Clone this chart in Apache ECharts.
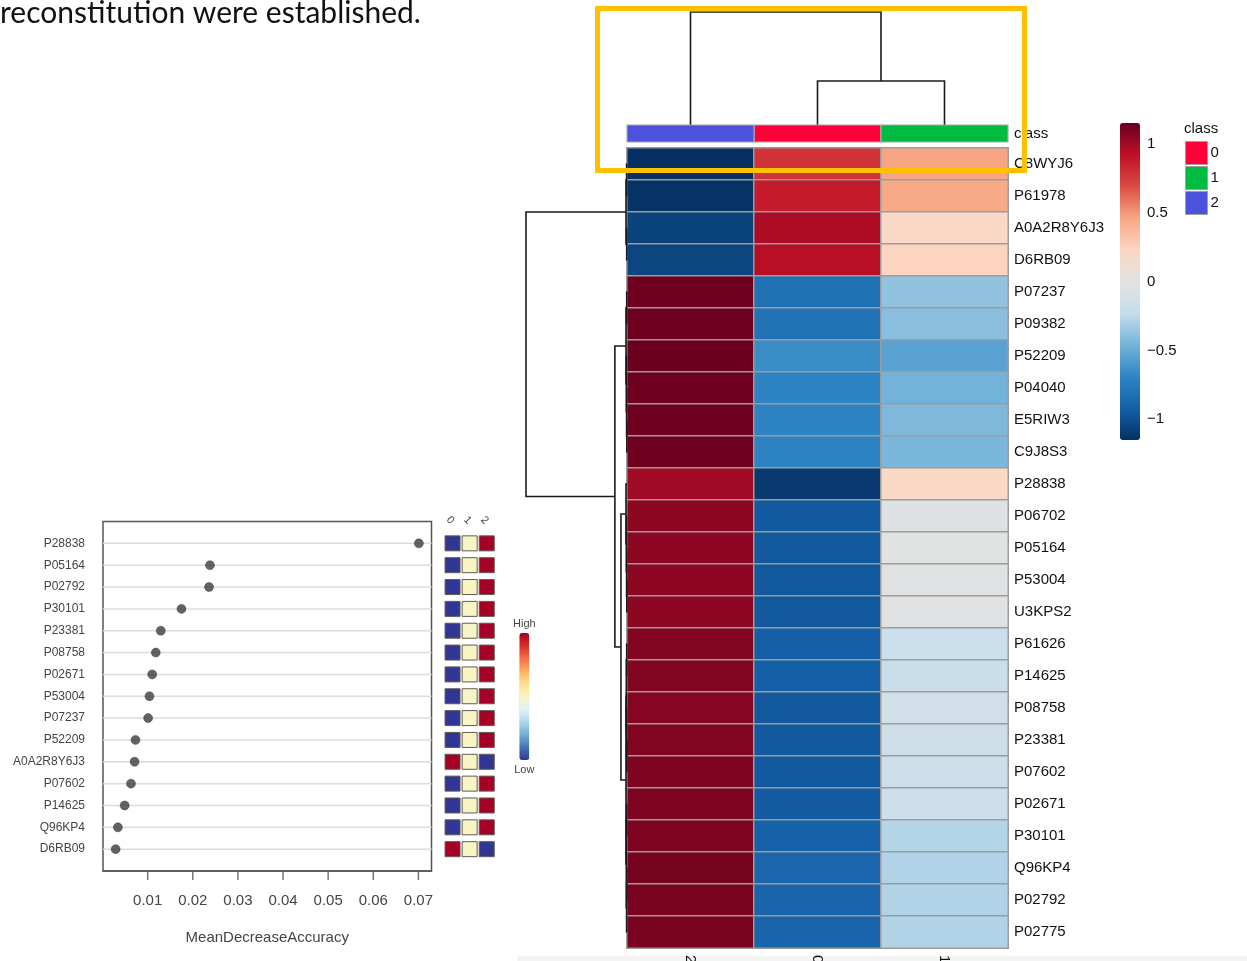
<!DOCTYPE html>
<html>
<head>
<meta charset="utf-8">
<script src="https://cdn.jsdelivr.net/npm/echarts@6/dist/echarts.min.js"></script>
<style>
  html, body { margin: 0; padding: 0; background: #ffffff; }
  #chart { width: 1247px; height: 961px; }
</style>
</head>
<body>
<div id="chart"></div>
<script>
// ---------- Clustered heatmap of row-scaled protein abundance ----------
const proteins = ['C8WYJ6', 'P61978', 'A0A2R8Y6J3', 'D6RB09', 'P07237', 'P09382', 'P52209', 'P04040',
  'E5RIW3', 'C9J8S3', 'P28838', 'P06702', 'P05164', 'P53004', 'U3KPS2', 'P61626', 'P14625',
  'P08758', 'P23381', 'P07602', 'P02671', 'P30101', 'Q96KP4', 'P02792', 'P02775'];
// column order after clustering
const groups = ['2', '0', '1'];
// scaled values per protein, one array per column
const group2 = [-1.15, -1.13, -1.06, -1.05, 1.13, 1.13, 1.14, 1.13, 1.13, 1.13, 1.00, 1.05, 1.05,
  1.05, 1.05, 1.08, 1.08, 1.07, 1.08, 1.09, 1.09, 1.09, 1.11, 1.10, 1.10];
const group0 = [0.78, 0.88, 0.97, 0.94, -0.82, -0.80, -0.65, -0.70, -0.70, -0.70, -1.10, -0.95, -0.96,
  -0.96, -0.96, -0.93, -0.92, -0.96, -0.95, -0.95, -0.94, -0.91, -0.88, -0.89, -0.89];
const group1 = [0.46, 0.44, 0.20, 0.24, -0.38, -0.40, -0.55, -0.46, -0.43, -0.44, 0.20, -0.05, -0.02,
  -0.04, -0.03, -0.20, -0.21, -0.15, -0.17, -0.19, -0.19, -0.28, -0.29, -0.29, -0.29];
const colorTicks = [-1, -0.5, 0, 0.5, 1];
const classNames = ['0', '1', '2'];
const classColors = ['#FF0037', '#00BB3F', '#4B53DD'];

// hclust-style merges: negative = leaf (1-based display position), positive = earlier merge
const rowMerges = [
  [-1, -2, 0.004], [-3, -4, 0.003], [1, 2, 0.010],
  [-5, -6, 0.003], [-9, -10, 0.002], [-8, 5, 0.004], [-7, 6, 0.006], [4, 7, 0.010],
  [-14, -15, 0.002], [-13, 9, 0.004], [-12, 10, 0.006], [-11, 11, 0.010],
  [-16, -17, 0.003], [-19, -20, 0.002], [-18, 14, 0.004], [13, 15, 0.007],
  [-21, -22, 0.003], [-23, -24, 0.002], [18, -25, 0.004], [17, 19, 0.007], [16, 20, 0.010],
  [12, 21, 0.06], [8, 22, 0.12], [3, 23, 1.0]
];
const colMerges = [[-2, -3, 0.39], [-1, 1, 1.0]];

// ---------- Random forest variable importance ----------
const features = ['P28838', 'P05164', 'P02792', 'P30101', 'P23381', 'P08758', 'P02671', 'P53004',
  'P07237', 'P52209', 'A0A2R8Y6J3', 'P07602', 'P14625', 'Q96KP4', 'D6RB09'];
const meanDecreaseAccuracy = [0.0701, 0.0238, 0.0236, 0.0175, 0.0129, 0.0118, 0.0110, 0.0104,
  0.0101, 0.0073, 0.0071, 0.0063, 0.0049, 0.0034, 0.0029];
const importanceTicks = [0.01, 0.02, 0.03, 0.04, 0.05, 0.06, 0.07];
// relative level of each feature within classes 0, 1, 2 (0 = low, 1 = high)
const levelClass0 = [0, 0, 0, 0, 0, 0, 0, 0, 0, 0, 1, 0, 0, 0, 1];
const levelClass1 = [0.5, 0.5, 0.5, 0.5, 0.5, 0.5, 0.5, 0.5, 0.5, 0.5, 0.5, 0.5, 0.5, 0.5, 0.5];
const levelClass2 = [1, 1, 1, 1, 1, 1, 1, 1, 1, 1, 0, 1, 1, 1, 0];

// ---------- helpers ----------
function dendroSegments(merges, rowWise) {
  const pos = [], hgt = [], segs = [];
  const info = id => (id < 0 ? [-id - 1, 0] : [pos[id - 1], hgt[id - 1]]);
  merges.forEach(([a, b, h]) => {
    const [pa, ha] = info(a);
    const [pb, hb] = info(b);
    pos.push((pa + pb) / 2);
    hgt.push(h);
    let pts = [[pa, ha], [pa, h], [pb, h], [pb, hb]];
    if (rowWise) pts = pts.map(([p, v]) => [v, p]);
    segs.push({ coords: pts });
  });
  return segs;
}

const heatData = [];
const groupValues = [group2, group0, group1];
proteins.forEach((p, r) => {
  groupValues.forEach((vals, c) => heatData.push([c, r, vals[r]]));
});

const levelData = [];
[levelClass0, levelClass1, levelClass2].forEach((lv, c) => {
  lv.forEach((v, i) => levelData.push([c, i + 1, v]));
});

const font = 'Liberation Sans';
const chart = echarts.init(document.getElementById('chart'));

const classSeries = classNames.map((name, k) => ({
  type: 'custom',
  name: name,
  xAxisIndex: 4, yAxisIndex: 4,
  itemStyle: { color: classColors[k] },
  data: [[groups.indexOf(name), 0]],
  renderItem: (params, api) => {
    const c = api.coord([api.value(0), api.value(1)]);
    const s = api.size([1, 1]);
    return {
      type: 'rect',
      shape: { x: c[0] - s[0] / 2, y: c[1] - s[1] / 2, width: s[0], height: s[1] },
      style: { fill: api.visual('color'), stroke: '#a8a8a8', lineWidth: 1.2 }
    };
  }
}));

const gridBase = { outerBoundsMode: 'none', containLabel: false };

const option = {
  backgroundColor: '#ffffff',
  animation: false,
  textStyle: { fontFamily: font },
  grid: [
    Object.assign({ left: 103, top: 521.5, width: 328.5, height: 349.5, show: true, borderColor: '#555', borderWidth: 1.5 }, gridBase),
    Object.assign({ left: 444, top: 521.5, width: 51.3, height: 349.5 }, gridBase),
    Object.assign({ left: 526, top: 148, width: 101, height: 800 }, gridBase),
    Object.assign({ left: 627, top: 12, width: 381, height: 113 }, gridBase),
    Object.assign({ left: 627, top: 125, width: 381, height: 17 }, gridBase),
    Object.assign({ left: 627, top: 148, width: 381, height: 800 }, gridBase),
    Object.assign({ left: 1120, top: 123, width: 20, height: 317 }, gridBase)
  ],
  xAxis: [
    {
      gridIndex: 0, type: 'value', min: 0.0001, max: 0.0729, position: 'bottom',
      axisLine: { show: true, onZero: false, lineStyle: { color: '#555', width: 1.5 } },
      axisTick: { show: false },
      axisLabel: { customValues: importanceTicks, fontSize: 15, color: '#444', margin: 22.5,
        formatter: v => v.toFixed(2) },
      splitLine: { show: false },
      name: 'MeanDecreaseAccuracy', nameLocation: 'middle', nameGap: 59.5,
      nameTextStyle: { fontSize: 15, color: '#444' }
    },
    {
      gridIndex: 1, type: 'category', data: classNames, position: 'top',
      axisLine: { show: false, onZero: false }, axisTick: { show: false },
      axisLabel: { rotate: 45, fontSize: 11, color: '#444', margin: -1 }
    },
    { gridIndex: 2, type: 'value', min: 0, max: 1, inverse: true, show: false },
    { gridIndex: 3, type: 'value', min: -0.5, max: 2.5, show: false },
    { gridIndex: 4, type: 'category', data: groups, show: false },
    {
      gridIndex: 5, type: 'category', data: groups, position: 'bottom',
      axisLine: { show: false, onZero: false }, axisTick: { show: false },
      axisLabel: { rotate: -90, fontSize: 15, color: '#111', margin: 7 }
    },
    { gridIndex: 6, type: 'value', show: false }
  ],
  yAxis: [
    {
      gridIndex: 0, type: 'value', min: 0, max: 16, inverse: true,
      axisLine: { show: false, onZero: false }, axisTick: { show: false }, splitLine: { show: false },
      axisLabel: { customValues: features.map((f, i) => i + 1), formatter: v => features[v - 1],
        fontSize: 12, color: '#444', margin: 18 }
    },
    { gridIndex: 1, type: 'value', min: 0, max: 16, inverse: true, show: false },
    { gridIndex: 2, type: 'value', min: -0.5, max: proteins.length - 0.5, inverse: true, show: false },
    { gridIndex: 3, type: 'value', min: 0, max: 1, show: false },
    {
      gridIndex: 4, type: 'category', data: ['class'], position: 'right',
      axisLine: { show: false, onZero: false }, axisTick: { show: false },
      axisLabel: { fontSize: 15, color: '#111', margin: 6 }
    },
    {
      gridIndex: 5, type: 'category', data: proteins, inverse: true, position: 'right',
      axisLine: { show: false, onZero: false }, axisTick: { show: false },
      axisLabel: { fontSize: 15, color: '#111', margin: 6 }
    },
    {
      gridIndex: 6, type: 'value', min: -1.15, max: 1.15, position: 'right',
      axisLine: { show: false, onZero: false }, axisTick: { show: false }, splitLine: { show: false },
      axisLabel: { customValues: colorTicks, fontSize: 15, color: '#111', margin: 7,
        formatter: v => String(v).replace('-', '\u2212') }
    }
  ],
  visualMap: [
    {
      type: 'continuous', seriesIndex: 3, dimension: 2, min: -1.15, max: 1.15,
      calculable: false, hoverLink: false, orient: 'vertical', padding: 0,
      left: 1120, top: 123, itemWidth: 20, itemHeight: 317,
      inRange: { color: ['#053061', '#1460A8', '#2F85C3', '#74B3D9', '#C6DDEC', '#E4E2E1',
        '#FCD6C2', '#F7A683', '#DA4B43', '#C00F27', '#67001F'] }
    },
    {
      type: 'continuous', seriesIndex: 2, dimension: 2, min: 0, max: 1,
      calculable: false, hoverLink: false, orient: 'vertical', padding: 0,
      left: 513, top: 618, itemWidth: 10, itemHeight: 127, text: ['High', 'Low'], textGap: 4,
      textStyle: { fontSize: 11, color: '#444', fontFamily: font },
      inRange: { color: ['#313695', '#4575B4', '#74ADD1', '#ABD9E9', '#E0F3F8', '#F8F4C4',
        '#FEE090', '#FDAE61', '#F46D43', '#D73027', '#A50026'] }
    }
  ],
  legend: {
    data: classNames, orient: 'vertical', left: 1185, top: 141, padding: 0,
    itemWidth: 22, itemHeight: 23, itemGap: 1, icon: 'rect', selectedMode: false,
    itemStyle: { borderColor: '#a0a0a0', borderWidth: 1 },
    textStyle: { fontSize: 15, color: '#111', fontFamily: font, padding: [0, 0, 0, -2] }
  },
  series: [
    {
      type: 'custom', name: 'guides', xAxisIndex: 0, yAxisIndex: 0, silent: true, z: 1,
      data: features.map((f, i) => [meanDecreaseAccuracy[i], i + 1]),
      encode: { x: 0, y: 1 },
      renderItem: (params, api) => {
        const cs = params.coordSys;
        const y = api.coord([api.value(0), api.value(1)])[1];
        return {
          type: 'line',
          shape: { x1: cs.x, y1: y, x2: cs.x + cs.width, y2: y },
          style: { stroke: '#dcdcdc', lineWidth: 1.5 }
        };
      }
    },
    {
      type: 'scatter', name: 'MeanDecreaseAccuracy', xAxisIndex: 0, yAxisIndex: 0, z: 3,
      data: features.map((f, i) => [meanDecreaseAccuracy[i], i + 1]),
      symbol: 'circle', symbolSize: 9,
      itemStyle: { color: '#3c3c3c', borderColor: '#2a2a2a', borderWidth: 0.5 }
    },
    {
      type: 'custom', name: 'classLevel', xAxisIndex: 1, yAxisIndex: 1,
      data: levelData, encode: { x: 0, y: 1 },
      renderItem: (params, api) => {
        const c = api.coord([api.value(0), api.value(1)]);
        return {
          type: 'rect',
          shape: { x: c[0] - 7.5, y: c[1] - 7.5, width: 15, height: 15 },
          style: { fill: api.visual('color'), stroke: '#5f5c50', lineWidth: 1 }
        };
      }
    },
    {
      type: 'heatmap', name: 'scaled', xAxisIndex: 5, yAxisIndex: 5,
      data: heatData,
      itemStyle: { borderColor: '#9c9c9c', borderWidth: 1.5 },
      emphasis: { disabled: true }
    },
    {
      type: 'lines', name: 'rowTree', coordinateSystem: 'cartesian2d', xAxisIndex: 2, yAxisIndex: 2,
      polyline: true, silent: true, data: dendroSegments(rowMerges, true),
      lineStyle: { color: '#1a1a1a', width: 1.6, opacity: 1 }
    },
    {
      type: 'lines', name: 'colTree', coordinateSystem: 'cartesian2d', xAxisIndex: 3, yAxisIndex: 3,
      polyline: true, silent: true, data: dendroSegments(colMerges, false),
      lineStyle: { color: '#1a1a1a', width: 1.6, opacity: 1 }
    },
    {
      // outward tick marks under the importance axis
      type: 'scatter', name: 'importanceTicks', xAxisIndex: 0, yAxisIndex: 0, silent: true,
      clip: false, z: 10,
      data: importanceTicks.map(t => [t, 16]),
      symbol: 'rect', symbolSize: [1.5, 9], symbolOffset: [0, 4.5],
      itemStyle: { color: '#555' }
    }
  ].concat(classSeries),
  graphic: [
    {
      type: 'rect', silent: true, z: -10,
      shape: { x: 517, y: 956, width: 730, height: 5 },
      style: { fill: '#f3f3f3' }
    },
    {
      type: 'text', silent: true, x: 0, y: 13,
      style: { text: 'reconstitution were established.', fontSize: 30, fontFamily: 'Lato',
        fill: '#111', verticalAlign: 'middle', align: 'left' }
    },
    {
      type: 'text', silent: true, x: 1184, y: 129,
      style: { text: 'class', fontSize: 15, fontFamily: font, fill: '#111', verticalAlign: 'middle' }
    },
    {
      type: 'rect', silent: true, z: 100,
      shape: { x: 597.5, y: 8.5, width: 427, height: 162 },
      style: { fill: 'none', stroke: '#FFC000', lineWidth: 5 }
    }
  ]
};

chart.setOption(option);
</script>
</body>
</html>
